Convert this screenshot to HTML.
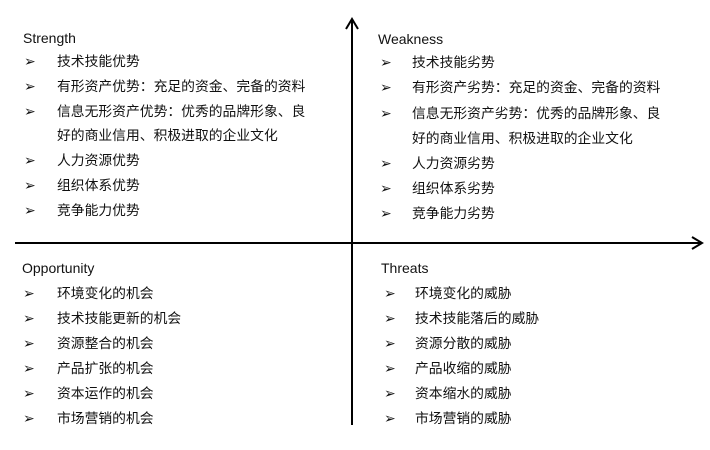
<!DOCTYPE html>
<html><head><meta charset="utf-8"><style>
body{margin:0;width:710px;height:450px;background:#fff;position:relative;overflow:hidden;font-family:"Liberation Sans","Noto Sans CJK SC",sans-serif;color:#111;}
.t{position:absolute;font-size:14px;line-height:16px;white-space:nowrap;}
.c{position:absolute;font-size:13.8px;line-height:16px;white-space:nowrap;}
.b{position:absolute;font-size:14px;line-height:16px;font-family:"DejaVu Sans",sans-serif;font-weight:bold;}
</style></head><body>
<svg width="710" height="450" style="position:absolute;left:0;top:0">
<line x1="352" y1="19" x2="352" y2="425" stroke="#000" stroke-width="2"/>
<polyline points="346,29 352,19 358,29" fill="none" stroke="#000" stroke-width="2"/>
<line x1="15" y1="243" x2="702" y2="243" stroke="#000" stroke-width="2"/>
<polyline points="692,237 702,243 692,249" fill="none" stroke="#000" stroke-width="2"/>
</svg>
<div id="q"></div>
<script>
const Q=[
 [23,38,24,57,"Strength",[[62,"技术技能优势"],[87,"有形资产优势：充足的资金、完备的资料"],[112,"信息无形资产优势：优秀的品牌形象、良"],[136,"好的商业信用、积极进取的企业文化",1],[161,"人力资源优势"],[186,"组织体系优势"],[211,"竞争能力优势"]]],
 [378,39,380,412,"Weakness",[[63,"技术技能劣势"],[88,"有形资产劣势：充足的资金、完备的资料"],[114,"信息无形资产劣势：优秀的品牌形象、良"],[139,"好的商业信用、积极进取的企业文化",1],[164,"人力资源劣势"],[189,"组织体系劣势"],[214,"竞争能力劣势"]]],
 [22,268,23,57,"Opportunity",[[294,"环境变化的机会"],[319,"技术技能更新的机会"],[344,"资源整合的机会"],[369,"产品扩张的机会"],[394,"资本运作的机会"],[419,"市场营销的机会"]]],
 [381,268,384,415,"Threats",[[294,"环境变化的威胁"],[319,"技术技能落后的威胁"],[344,"资源分散的威胁"],[369,"产品收缩的威胁"],[394,"资本缩水的威胁"],[419,"市场营销的威胁"]]]
];
let h="";
for(const [tx,ty,bx,cx,title,rows] of Q){
 h+=`<div class="t" style="left:${tx}px;top:${ty-8}px">${title}</div>`;
 for(const [y,s,cont] of rows){
  if(!cont) h+=`<div class="b" style="left:${bx}px;top:${y-8}px">&#x27A2;</div>`;
  h+=`<div class="c" style="left:${cx}px;top:${y-8}px">${s}</div>`;
 }
}
document.getElementById('q').innerHTML=h;
</script>
</body></html>
